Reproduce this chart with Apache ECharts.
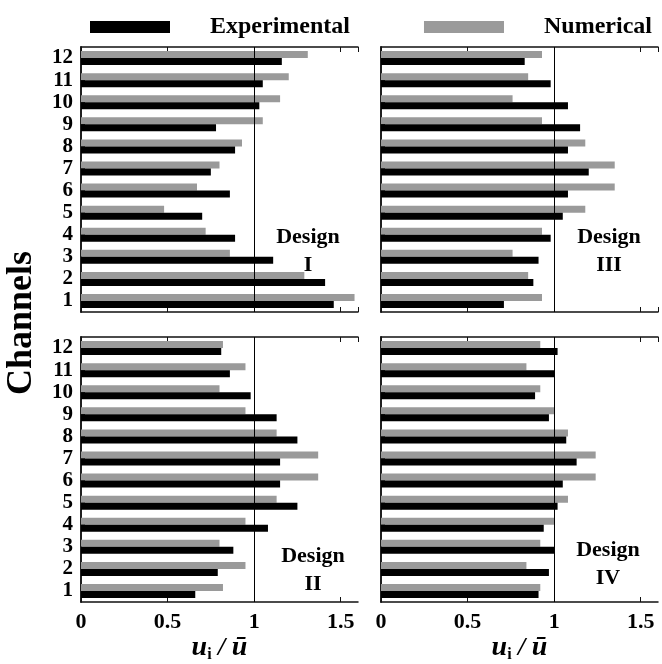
<!DOCTYPE html>
<html>
<head>
<meta charset="utf-8">
<script src="https://cdn.jsdelivr.net/npm/echarts@6/dist/echarts.min.js"></script>
<style>
html,body{margin:0;padding:0;background:#fff;}
#chart{width:662px;height:664px;}
</style>
</head>
<body>
<div id="chart"></div>
<script>
const channels = ['1','2','3','4','5','6','7','8','9','10','11','12'];
const designNames = ['I','III','II','IV'];
const expI   = [1.46,1.41,1.11,0.89,0.70,0.86,0.75,0.89,0.78,1.03,1.05,1.16];
const numI   = [1.58,1.29,0.86,0.72,0.48,0.67,0.80,0.93,1.05,1.15,1.20,1.31];
const expIII = [0.71,0.88,0.91,0.98,1.05,1.08,1.20,1.08,1.15,1.08,0.98,0.83];
const numIII = [0.93,0.85,0.76,0.93,1.18,1.35,1.35,1.18,0.93,0.76,0.85,0.93];
const expII  = [0.66,0.79,0.88,1.08,1.25,1.15,1.15,1.25,1.13,0.98,0.86,0.81];
const numII  = [0.82,0.95,0.80,0.95,1.13,1.37,1.37,1.13,0.95,0.80,0.95,0.82];
const expIV  = [0.91,0.97,1.00,0.94,1.02,1.05,1.13,1.07,0.97,0.89,1.00,1.02];
const numIV  = [0.92,0.84,0.92,1.00,1.08,1.24,1.24,1.08,1.00,0.92,0.84,0.92];
const xTicks = [0, 0.5, 1, 1.5];
const xMin = 0, xMax = 1.6, xInterval = 0.5;
const refValue = 1;

const expData = [expI, expIII, expII, expIV];
const numData = [numI, numIII, numII, numIV];

const SERIF = '"Liberation Serif","Times New Roman",serif';
const grids = [
  {left: 81, top: 47, width: 277, height: 265},
  {left: 381, top: 47, width: 277, height: 265},
  {left: 81, top: 337, width: 277, height: 265},
  {left: 381, top: 337, width: 277, height: 265}
];
const labelPos = [[308, 251], [609, 251], [313, 570], [608, 564]];

const xAxes = [], yAxes = [], series = [];
grids.forEach((g, k) => {
  const bottomRow = k >= 2;
  const leftCol = (k % 2) === 0;
  xAxes.push({
    type: 'value', gridIndex: k, min: xMin, max: xMax, interval: xInterval, position: 'bottom',
    axisLine: {show: true, lineStyle: {color: '#111', width: 1.5}},
    axisTick: {show: true, inside: true, length: 5, lineStyle: {color: '#111'}},
    splitLine: {show: false},
    axisLabel: {show: bottomRow, showMaxLabel: false, color: '#000', margin: 9,
      fontFamily: SERIF, fontWeight: 'bold', fontSize: 22,
      formatter: v => xTicks.indexOf(v) >= 0 ? String(v) : ''},
    name: bottomRow ? '{u|u}{i|i}{s| / }{u|ū}' : '',
    nameLocation: 'middle', nameGap: 30,
    nameTextStyle: {rich: {
      u: {fontFamily: SERIF, fontWeight: 'bold', fontStyle: 'italic', fontSize: 28, color: '#000', lineHeight: 30},
      i: {fontFamily: SERIF, fontWeight: 'bold', fontSize: 16, color: '#000', lineHeight: 30, verticalAlign: 'bottom', padding: [12, 0, 0, 0]},
      s: {fontFamily: SERIF, fontWeight: 'bold', fontStyle: 'italic', fontSize: 26, color: '#000', lineHeight: 30}
    }}
  });
  xAxes.push({
    type: 'value', gridIndex: k, min: xMin, max: xMax, interval: xInterval, position: 'top',
    axisLine: {show: true, lineStyle: {color: '#111', width: 1.5}},
    axisTick: {show: true, inside: true, length: 5, lineStyle: {color: '#111'}},
    splitLine: {show: false}, axisLabel: {show: false}
  });
  yAxes.push({
    type: 'category', gridIndex: k, data: channels, position: 'left',
    axisLine: {show: true, lineStyle: {color: '#111', width: 1.5}},
    axisTick: {show: false},
    axisLabel: {show: leftCol, interval: 0, color: '#000', margin: 8, fontFamily: SERIF, fontWeight: 'bold', fontSize: 21}
  });
  yAxes.push({
    type: 'category', gridIndex: k, data: channels, position: 'right',
    axisLine: {show: true, lineStyle: {color: '#111', width: 1.5}},
    axisTick: {show: true, interval: 0, alignWithLabel: true, inside: false, length: 4, lineStyle: {color: '#111'}},
    axisLabel: {show: false}
  });
  series.push({
    name: 'Numerical', type: 'bar', xAxisIndex: 2 * k, yAxisIndex: 2 * k,
    data: numData[k], barWidth: 7, barGap: '0%',
    itemStyle: {color: '#9a9a9a'}
  });
  series.push({
    name: 'Experimental', type: 'bar', xAxisIndex: 2 * k, yAxisIndex: 2 * k,
    data: expData[k], barWidth: 7, barGap: '0%',
    itemStyle: {color: '#000'},
    markLine: {silent: true, symbol: ['none', 'none'], label: {show: false}, z: 10,
      lineStyle: {color: '#000', width: 1, type: 'solid'},
      data: [{xAxis: refValue}]}
  });
});

const graphic = [
  {type: 'text', x: 22, y: 323, rotation: Math.PI / 2,
    style: {text: 'Channels', font: 'bold 36px ' + SERIF, fill: '#000', textAlign: 'center', textVerticalAlign: 'middle'}}
];
labelPos.forEach((p, k) => {
  graphic.push({type: 'text', x: p[0], y: p[1],
    style: {text: 'Design\n' + designNames[k], font: 'bold 22px ' + SERIF, fill: '#000',
      textAlign: 'center', textVerticalAlign: 'middle', lineHeight: 28}});
});

const chart = echarts.init(document.getElementById('chart'), null, {renderer: 'canvas'});
chart.setOption({
  animation: false,
  backgroundColor: '#fff',
  legend: {
    data: ['Experimental', 'Numerical'], left: 85, top: 10, icon: 'rect',
    itemWidth: 80, itemHeight: 12, itemGap: 74,
    textStyle: {fontFamily: SERIF, fontWeight: 'bold', fontSize: 24, color: '#000', padding: [0, 0, 0, 35]}
  },
  grid: grids.map(g => Object.assign({containLabel: false}, g)),
  xAxis: xAxes,
  yAxis: yAxes,
  series: series,
  graphic: graphic
});
</script>
</body>
</html>
